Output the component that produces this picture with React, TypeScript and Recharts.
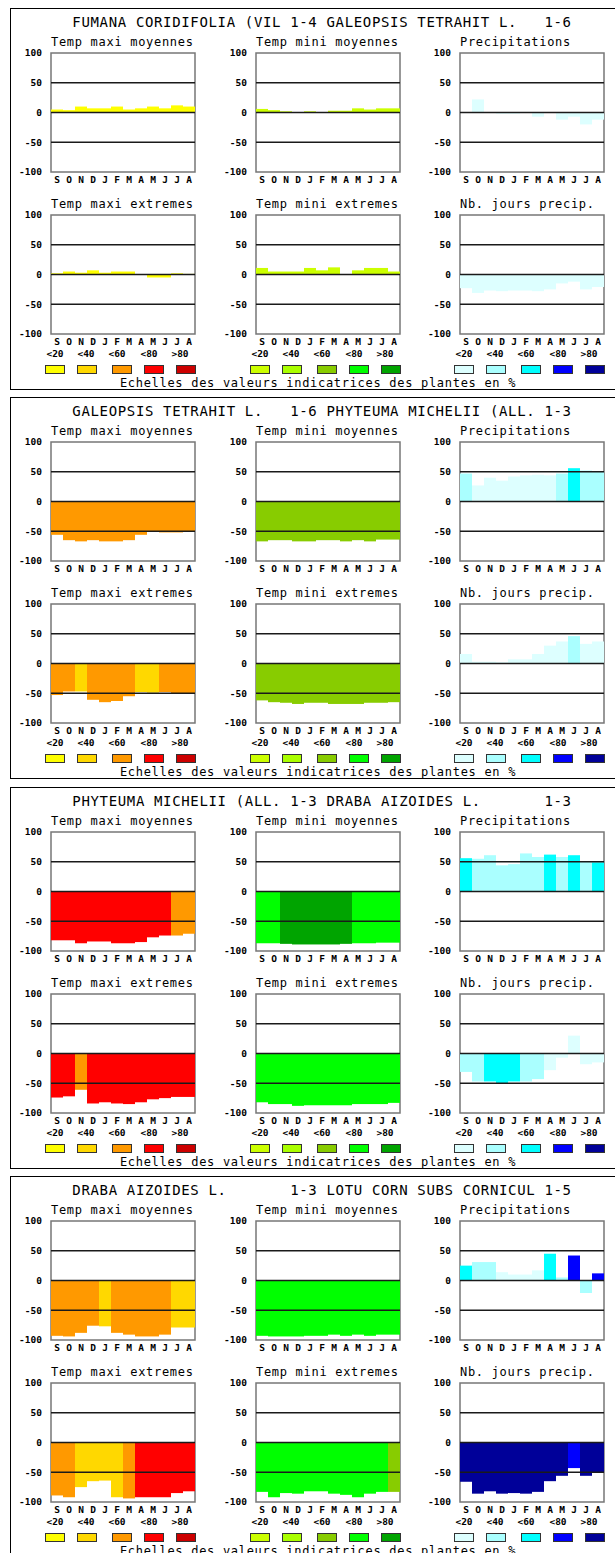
import React from 'react';
import { BarChart, Bar, XAxis, YAxis, Cell, ReferenceLine, ReferenceArea } from 'recharts';

const MONTH_IDS = ['sep', 'oct', 'nov', 'dec', 'jan', 'feb', 'mar', 'apr', 'may', 'jun', 'jul', 'aug'];
const MONTH_LABELS = ['S', 'O', 'N', 'D', 'J', 'F', 'M', 'A', 'M', 'J', 'J', 'A'];
const Y_TICKS = [100, 50, 0, -50, -100];
const SCALE_LABELS = ['<20', '<40', '<60', '<80', '>80'];

const TITLES = [
  'FUMANA CORIDIFOLIA (VIL 1-4 GALEOPSIS TETRAHIT L.   1-6',
  'GALEOPSIS TETRAHIT L.   1-6 PHYTEUMA MICHELII (ALL. 1-3',
  'PHYTEUMA MICHELII (ALL. 1-3 DRABA AIZOIDES L.       1-3',
  'DRABA AIZOIDES L.       1-3 LOTU CORN SUBS CORNICUL 1-5',
];
const SUBTITLES = [
  'Temp maxi moyennes', 'Temp mini moyennes', 'Precipitations',
  'Temp maxi extremes', 'Temp mini extremes', 'Nb. jours precip.',
];
const FOOTER = 'Echelles des valeurs indicatrices des plantes en %';

const MAXI_COLORS = ['#ffff00', '#ffd800', '#ff9900', '#ff0000', '#cc0000'];
const MINI_COLORS = ['#ccff00', '#aaff00', '#88cc00', '#00ff00', '#00a400'];
const PREC_COLORS = ['#ddffff', '#aaffff', '#00ffff', '#0000ff', '#000099'];

// panel 1
const p1TxMoy = [5, 4, 10, 7, 7, 10, 5, 7, 10, 7, 12, 10];
const p1TxMoyLvl = [0, 0, 0, 0, 0, 0, 0, 0, 0, 0, 0, 0];
const p1TnMoy = [6, 4, 2, 0, 2, 0, 3, 3, 7, 5, 7, 7];
const p1TnMoyLvl = [0, 0, 0, 0, 0, 0, 0, 0, 0, 0, 0, 0];
const p1Prec = [0, 22, 0, -2, -2, 0, -7, 0, -12, -7, -20, -12];
const p1PrecLvl = [0, 0, 0, 0, 0, 0, 0, 0, 0, 0, 0, 0];
const p1TxExt = [2, 5, 3, 7, 3, 5, 5, 0, -5, -5, 2, 1];
const p1TxExtLvl = [0, 0, 0, 0, 0, 0, 0, 0, 0, 0, 0, 0];
const p1TnExt = [11, 5, 5, 5, 11, 7, 12, 0, 7, 11, 11, 5];
const p1TnExtLvl = [0, 0, 0, 0, 0, 0, 0, 0, 0, 0, 0, 0];
const p1NbJ = [-23, -31, -27, -28, -27, -27, -28, -25, -15, -12, -25, -21];
const p1NbJLvl = [0, 0, 0, 0, 0, 0, 0, 0, 0, 0, 0, 0];

// panel 2
const p2TxMoy = [-56, -65, -67, -65, -67, -67, -65, -56, -51, -52, -52, -50];
const p2TxMoyLvl = [2, 2, 2, 2, 2, 2, 2, 2, 2, 2, 2, 2];
const p2TnMoy = [-67, -65, -65, -67, -67, -65, -65, -67, -65, -67, -64, -64];
const p2TnMoyLvl = [2, 2, 2, 2, 2, 2, 2, 2, 2, 2, 2, 2];
const p2Prec = [47, 27, 40, 35, 42, 44, 45, 44, 47, 56, 52, 50];
const p2PrecLvl = [1, 0, 0, 0, 0, 0, 0, 0, 1, 2, 1, 1];
const p2TxExt = [-53, -47, -47, -61, -65, -63, -55, -48, -49, -48, -50, -50];
const p2TxExtLvl = [2, 2, 1, 2, 2, 2, 2, 1, 1, 2, 2, 2];
const p2TnExt = [-62, -65, -66, -68, -66, -66, -68, -68, -68, -66, -66, -65];
const p2TnExtLvl = [2, 2, 2, 2, 2, 2, 2, 2, 2, 2, 2, 2];
const p2NbJ = [16, 3, 3, 2, 7, 7, 16, 30, 37, 46, 33, 37];
const p2NbJLvl = [0, 0, 0, 0, 0, 0, 0, 0, 0, 1, 0, 0];

// panel 3
const p3TxMoy = [-82, -82, -87, -84, -84, -87, -87, -85, -77, -74, -74, -71];
const p3TxMoyLvl = [3, 3, 3, 3, 3, 3, 3, 3, 3, 3, 2, 2];
const p3TnMoy = [-87, -87, -88, -89, -89, -89, -89, -88, -87, -87, -86, -86];
const p3TnMoyLvl = [3, 3, 4, 4, 4, 4, 4, 4, 3, 3, 3, 3];
const p3Prec = [56, 55, 61, 44, 46, 64, 58, 62, 58, 61, 50, 49];
const p3PrecLvl = [2, 1, 1, 1, 1, 1, 1, 2, 1, 2, 1, 2];
const p3TxExt = [-74, -72, -61, -84, -82, -84, -85, -82, -77, -75, -73, -73];
const p3TxExtLvl = [3, 3, 2, 3, 3, 3, 3, 3, 3, 3, 3, 3];
const p3TnExt = [-82, -85, -85, -88, -87, -87, -87, -87, -85, -85, -85, -83];
const p3TnExtLvl = [3, 3, 3, 3, 3, 3, 3, 3, 3, 3, 3, 3];
const p3NbJ = [-31, -47, -47, -50, -47, -47, -43, -28, -7, 30, -18, -15];
const p3NbJLvl = [1, 1, 2, 2, 2, 1, 1, 0, 0, 0, 0, 0];

// panel 4
const p4TxMoy = [-93, -94, -88, -76, -77, -88, -91, -94, -94, -91, -79, -79];
const p4TxMoyLvl = [2, 2, 2, 2, 1, 2, 2, 2, 2, 2, 1, 1];
const p4TnMoy = [-93, -94, -94, -94, -93, -93, -91, -93, -91, -93, -91, -91];
const p4TnMoyLvl = [3, 3, 3, 3, 3, 3, 3, 3, 3, 3, 3, 3];
const p4Prec = [25, 31, 31, 14, 10, 10, 17, 45, 5, 42, -21, 12];
const p4PrecLvl = [2, 1, 1, 0, 0, 0, 0, 2, 1, 3, 1, 3];
const p4TxExt = [-89, -92, -75, -65, -64, -92, -94, -92, -92, -92, -85, -82];
const p4TxExtLvl = [2, 2, 1, 1, 1, 1, 2, 3, 3, 3, 3, 3];
const p4TnExt = [-83, -92, -85, -86, -82, -82, -86, -88, -92, -86, -83, -83];
const p4TnExtLvl = [3, 3, 3, 3, 3, 3, 3, 3, 3, 3, 3, 2];
const p4NbJ = [-66, -86, -82, -86, -85, -86, -83, -65, -56, -43, -56, -51];
const p4NbJLvl = [4, 4, 4, 4, 4, 4, 4, 4, 4, 3, 4, 4];

const PANELS = [
  [[p1TxMoy, p1TxMoyLvl], [p1TnMoy, p1TnMoyLvl], [p1Prec, p1PrecLvl], [p1TxExt, p1TxExtLvl], [p1TnExt, p1TnExtLvl], [p1NbJ, p1NbJLvl]],
  [[p2TxMoy, p2TxMoyLvl], [p2TnMoy, p2TnMoyLvl], [p2Prec, p2PrecLvl], [p2TxExt, p2TxExtLvl], [p2TnExt, p2TnExtLvl], [p2NbJ, p2NbJLvl]],
  [[p3TxMoy, p3TxMoyLvl], [p3TnMoy, p3TnMoyLvl], [p3Prec, p3PrecLvl], [p3TxExt, p3TxExtLvl], [p3TnExt, p3TnExtLvl], [p3NbJ, p3NbJLvl]],
  [[p4TxMoy, p4TxMoyLvl], [p4TnMoy, p4TnMoyLvl], [p4Prec, p4PrecLvl], [p4TxExt, p4TxExtLvl], [p4TnExt, p4TnExtLvl], [p4NbJ, p4NbJLvl]],
];
const COLOR_SETS = [MAXI_COLORS, MINI_COLORS, PREC_COLORS];

const MONO = '"DejaVu Sans Mono", monospace';
const PANEL_TOPS = [8, 397, 787, 1176];
const COL_LEFTS = [51, 256, 460];
const ROW_OFFSETS = [45, 207];
const PLOT_W = 144; // 12px per month so bars tile without seams
const PLOT_H = 119;
const Y_AXIS_W = 46;
const M_TOP = 10;
const X_AXIS_H = 20;

const tickStyle = { fontFamily: MONO, fontSize: 9.5, fontWeight: 700, fill: '#000' };

function MiniChart({ values, levels, colors, left, top }: any) {
  const data = MONTH_IDS.map((id, i) => ({ id, v: values[i], lvl: levels[i] }));
  return (
    <div style={{ position: 'absolute', left: left - Y_AXIS_W, top: top - M_TOP }}>
      <BarChart
        width={Y_AXIS_W + PLOT_W + 4}
        height={M_TOP + PLOT_H + X_AXIS_H}
        data={data}
        margin={{ top: M_TOP, right: 4, bottom: 0, left: 0 }}
        barCategoryGap={0}
        barGap={0}
      >
        <XAxis
          dataKey="id"
          interval={0}
          tickFormatter={(_v: any, i: number) => MONTH_LABELS[i]}
          axisLine={false}
          tickLine={false}
          tickSize={0}
          tickMargin={4}
          height={X_AXIS_H}
          tick={tickStyle}
        />
        <YAxis
          type="number"
          domain={[-100, 100]}
          ticks={Y_TICKS}
          interval={0}
          allowDataOverflow
          width={Y_AXIS_W}
          axisLine={false}
          tickLine={false}
          tickSize={0}
          tickMargin={9}
          tick={tickStyle}
        />
        <Bar dataKey="v" isAnimationActive={false}>
          {data.map((d, i) => (
            <Cell key={i} fill={colors[d.lvl]} />
          ))}
        </Bar>
        <ReferenceLine y={50} stroke="#1a1a1a" strokeWidth={1.3} />
        <ReferenceLine y={0} stroke="#1a1a1a" strokeWidth={1.3} />
        <ReferenceLine y={-50} stroke="#1a1a1a" strokeWidth={1.3} />
        <ReferenceArea y1={-100} y2={100} fill="none" fillOpacity={0} stroke="#777" strokeWidth={1.5} />
      </BarChart>
    </div>
  );
}

const SWATCH_OFFSETS = [-6, 26, 61, 93, 125];
const LABEL_CENTERS = [4, 35, 66, 98, 129];

function ScaleLegend({ colors, left, top }: any) {
  return (
    <>
      {SCALE_LABELS.map((lab, i) => (
        <div
          key={'l' + i}
          style={{
            position: 'absolute', left: left + LABEL_CENTERS[i] - 15, width: 30, top: top + 346 - 6,
            height: 12, lineHeight: '12px', textAlign: 'center',
            fontFamily: MONO, fontSize: 9.5, fontWeight: 700, color: '#000',
          }}
        >
          {lab}
        </div>
      ))}
      {colors.map((c: string, i: number) => (
        <div
          key={'s' + i}
          style={{
            position: 'absolute', left: left + SWATCH_OFFSETS[i], top: top + 357,
            width: 18, height: 7, background: c, border: '1px solid #333',
          }}
        />
      ))}
    </>
  );
}

function Panel({ index }: any) {
  const top = PANEL_TOPS[index];
  const charts = PANELS[index];
  return (
    <>
      <div style={{ position: 'absolute', left: 10, top, width: 620, height: 382, border: '1px solid #000', boxSizing: 'border-box' }} />
      <div
        style={{
          position: 'absolute', left: 322, top: top + 14, transform: 'translate(-50%, -50%)',
          whiteSpace: 'pre', fontFamily: MONO, fontSize: 14, letterSpacing: 0.65, lineHeight: 1, color: '#000',
        }}
      >
        {TITLES[index]}
      </div>
      {charts.map(([vals, lvls], k) => {
        const row = Math.floor(k / 3);
        const col = k % 3;
        const left = COL_LEFTS[col];
        const ptop = top + ROW_OFFSETS[row];
        return (
          <React.Fragment key={k}>
            <div
              style={{
                position: 'absolute', left, top: ptop - 11 - 7, height: 14, lineHeight: '14px',
                whiteSpace: 'pre', fontFamily: MONO, fontSize: 12, letterSpacing: 0.7, color: '#000',
              }}
            >
              {SUBTITLES[k]}
            </div>
            <MiniChart values={vals} levels={lvls} colors={COLOR_SETS[col]} left={left} top={ptop} />
          </React.Fragment>
        );
      })}
      {COLOR_SETS.map((c, col) => (
        <ScaleLegend key={col} colors={c} left={COL_LEFTS[col]} top={top} />
      ))}
      <div
        style={{
          position: 'absolute', left: 318, top: top + 375, transform: 'translate(-50%, -50%)',
          whiteSpace: 'pre', fontFamily: MONO, fontSize: 12, letterSpacing: 0.7, lineHeight: 1, color: '#000',
        }}
      >
        {FOOTER}
      </div>
    </>
  );
}

export default function App() {
  return (
    <div style={{ position: 'absolute', left: 0, top: 0, width: 615, height: 1553, background: '#fff', overflow: 'hidden' }}>
      {[0, 1, 2, 3].map((i) => (
        <Panel key={i} index={i} />
      ))}
    </div>
  );
}
